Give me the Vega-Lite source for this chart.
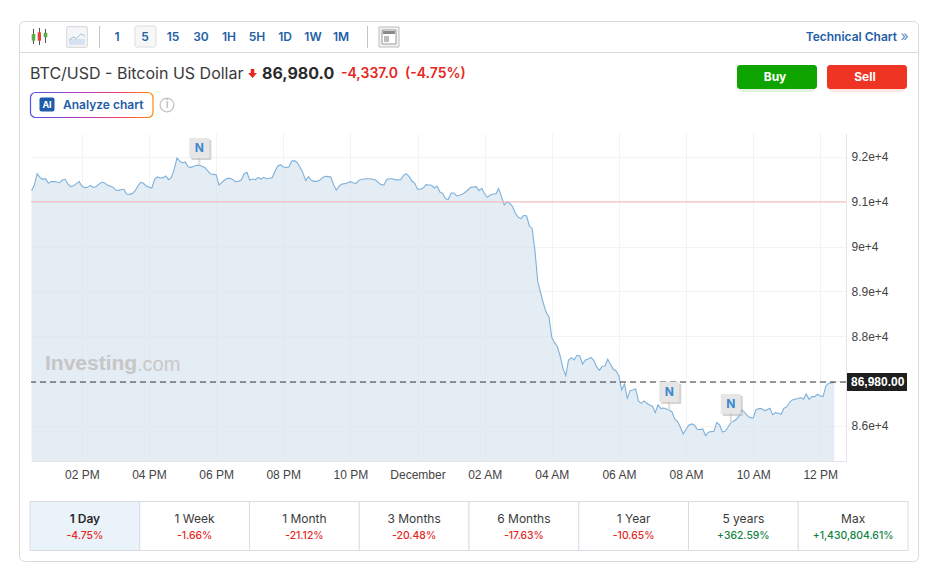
{"$schema":"https://vega.github.io/schema/vega-lite/v6.json","width":815,"height":328,"autosize":"none","padding":{"left":31,"top":133,"right":91,"bottom":116},"config":{"view":{"stroke":null},"text":{"font":"Inter"}},
"datasets":{"series":[
{"t":"2025-11-30T12:30:00Z","p":91249},{"t":"2025-11-30T12:35:00Z","p":91375},{"t":"2025-11-30T12:40:00Z","p":91628},{"t":"2025-11-30T12:45:00Z","p":91546},{"t":"2025-11-30T12:50:00Z","p":91502},{"t":"2025-11-30T12:55:00Z","p":91516},
{"t":"2025-11-30T13:00:00Z","p":91412},{"t":"2025-11-30T13:05:00Z","p":91450},{"t":"2025-11-30T13:10:00Z","p":91450},{"t":"2025-11-30T13:15:00Z","p":91442},{"t":"2025-11-30T13:20:00Z","p":91427},{"t":"2025-11-30T13:25:00Z","p":91487},{"t":"2025-11-30T13:30:00Z","p":91502},{"t":"2025-11-30T13:35:00Z","p":91398},{"t":"2025-11-30T13:40:00Z","p":91338},{"t":"2025-11-30T13:45:00Z","p":91360},{"t":"2025-11-30T13:50:00Z","p":91405},{"t":"2025-11-30T13:55:00Z","p":91450},
{"t":"2025-11-30T14:00:00Z","p":91353},{"t":"2025-11-30T14:05:00Z","p":91316},{"t":"2025-11-30T14:10:00Z","p":91323},{"t":"2025-11-30T14:15:00Z","p":91368},{"t":"2025-11-30T14:20:00Z","p":91323},{"t":"2025-11-30T14:25:00Z","p":91338},{"t":"2025-11-30T14:30:00Z","p":91390},{"t":"2025-11-30T14:35:00Z","p":91435},{"t":"2025-11-30T14:40:00Z","p":91427},{"t":"2025-11-30T14:45:00Z","p":91375},{"t":"2025-11-30T14:50:00Z","p":91353},{"t":"2025-11-30T14:55:00Z","p":91331},
{"t":"2025-11-30T15:00:00Z","p":91264},{"t":"2025-11-30T15:05:00Z","p":91256},{"t":"2025-11-30T15:10:00Z","p":91271},{"t":"2025-11-30T15:15:00Z","p":91279},{"t":"2025-11-30T15:20:00Z","p":91174},{"t":"2025-11-30T15:25:00Z","p":91167},{"t":"2025-11-30T15:30:00Z","p":91182},{"t":"2025-11-30T15:35:00Z","p":91241},{"t":"2025-11-30T15:40:00Z","p":91353},{"t":"2025-11-30T15:45:00Z","p":91435},{"t":"2025-11-30T15:50:00Z","p":91412},{"t":"2025-11-30T15:55:00Z","p":91353},
{"t":"2025-11-30T16:00:00Z","p":91323},{"t":"2025-11-30T16:05:00Z","p":91308},{"t":"2025-11-30T16:10:00Z","p":91502},{"t":"2025-11-30T16:15:00Z","p":91554},{"t":"2025-11-30T16:20:00Z","p":91531},{"t":"2025-11-30T16:25:00Z","p":91539},{"t":"2025-11-30T16:30:00Z","p":91576},{"t":"2025-11-30T16:35:00Z","p":91494},{"t":"2025-11-30T16:40:00Z","p":91546},{"t":"2025-11-30T16:45:00Z","p":91725},{"t":"2025-11-30T16:50:00Z","p":91977},{"t":"2025-11-30T16:55:00Z","p":91903},
{"t":"2025-11-30T17:00:00Z","p":91866},{"t":"2025-11-30T17:05:00Z","p":91888},{"t":"2025-11-30T17:10:00Z","p":91784},{"t":"2025-11-30T17:15:00Z","p":91769},{"t":"2025-11-30T17:20:00Z","p":91792},{"t":"2025-11-30T17:25:00Z","p":91814},{"t":"2025-11-30T17:30:00Z","p":91814},{"t":"2025-11-30T17:35:00Z","p":91792},{"t":"2025-11-30T17:40:00Z","p":91762},{"t":"2025-11-30T17:45:00Z","p":91688},{"t":"2025-11-30T17:50:00Z","p":91621},{"t":"2025-11-30T17:55:00Z","p":91613},
{"t":"2025-11-30T18:00:00Z","p":91606},{"t":"2025-11-30T18:05:00Z","p":91375},{"t":"2025-11-30T18:10:00Z","p":91427},{"t":"2025-11-30T18:15:00Z","p":91487},{"t":"2025-11-30T18:20:00Z","p":91524},{"t":"2025-11-30T18:25:00Z","p":91524},{"t":"2025-11-30T18:30:00Z","p":91494},{"t":"2025-11-30T18:35:00Z","p":91442},{"t":"2025-11-30T18:40:00Z","p":91457},{"t":"2025-11-30T18:45:00Z","p":91487},{"t":"2025-11-30T18:50:00Z","p":91621},{"t":"2025-11-30T18:55:00Z","p":91658},
{"t":"2025-11-30T19:00:00Z","p":91487},{"t":"2025-11-30T19:05:00Z","p":91509},{"t":"2025-11-30T19:10:00Z","p":91494},{"t":"2025-11-30T19:15:00Z","p":91546},{"t":"2025-11-30T19:20:00Z","p":91509},{"t":"2025-11-30T19:25:00Z","p":91546},{"t":"2025-11-30T19:30:00Z","p":91516},{"t":"2025-11-30T19:35:00Z","p":91524},{"t":"2025-11-30T19:40:00Z","p":91539},{"t":"2025-11-30T19:45:00Z","p":91673},{"t":"2025-11-30T19:50:00Z","p":91799},{"t":"2025-11-30T19:55:00Z","p":91829},
{"t":"2025-11-30T20:00:00Z","p":91777},{"t":"2025-11-30T20:05:00Z","p":91769},{"t":"2025-11-30T20:10:00Z","p":91777},{"t":"2025-11-30T20:15:00Z","p":91911},{"t":"2025-11-30T20:20:00Z","p":91918},{"t":"2025-11-30T20:25:00Z","p":91873},{"t":"2025-11-30T20:30:00Z","p":91769},{"t":"2025-11-30T20:35:00Z","p":91650},{"t":"2025-11-30T20:40:00Z","p":91472},{"t":"2025-11-30T20:45:00Z","p":91561},{"t":"2025-11-30T20:50:00Z","p":91479},{"t":"2025-11-30T20:55:00Z","p":91457},
{"t":"2025-11-30T21:00:00Z","p":91457},{"t":"2025-11-30T21:05:00Z","p":91479},{"t":"2025-11-30T21:10:00Z","p":91539},{"t":"2025-11-30T21:15:00Z","p":91569},{"t":"2025-11-30T21:20:00Z","p":91561},{"t":"2025-11-30T21:25:00Z","p":91554},{"t":"2025-11-30T21:30:00Z","p":91375},{"t":"2025-11-30T21:35:00Z","p":91264},{"t":"2025-11-30T21:40:00Z","p":91353},{"t":"2025-11-30T21:45:00Z","p":91398},{"t":"2025-11-30T21:50:00Z","p":91405},{"t":"2025-11-30T21:55:00Z","p":91427},
{"t":"2025-11-30T22:00:00Z","p":91450},{"t":"2025-11-30T22:05:00Z","p":91427},{"t":"2025-11-30T22:10:00Z","p":91405},{"t":"2025-11-30T22:15:00Z","p":91479},{"t":"2025-11-30T22:20:00Z","p":91502},{"t":"2025-11-30T22:25:00Z","p":91509},{"t":"2025-11-30T22:30:00Z","p":91516},{"t":"2025-11-30T22:35:00Z","p":91516},{"t":"2025-11-30T22:40:00Z","p":91502},{"t":"2025-11-30T22:45:00Z","p":91487},{"t":"2025-11-30T22:50:00Z","p":91427},{"t":"2025-11-30T22:55:00Z","p":91383},
{"t":"2025-11-30T23:00:00Z","p":91375},{"t":"2025-11-30T23:05:00Z","p":91502},{"t":"2025-11-30T23:10:00Z","p":91516},{"t":"2025-11-30T23:15:00Z","p":91516},{"t":"2025-11-30T23:20:00Z","p":91494},{"t":"2025-11-30T23:25:00Z","p":91487},{"t":"2025-11-30T23:30:00Z","p":91494},{"t":"2025-11-30T23:35:00Z","p":91591},{"t":"2025-11-30T23:40:00Z","p":91628},{"t":"2025-11-30T23:45:00Z","p":91561},{"t":"2025-11-30T23:50:00Z","p":91464},{"t":"2025-11-30T23:55:00Z","p":91412},
{"t":"2025-12-01T00:00:00Z","p":91279},{"t":"2025-12-01T00:05:00Z","p":91279},{"t":"2025-12-01T00:10:00Z","p":91308},{"t":"2025-12-01T00:15:00Z","p":91383},{"t":"2025-12-01T00:20:00Z","p":91375},{"t":"2025-12-01T00:25:00Z","p":91368},{"t":"2025-12-01T00:30:00Z","p":91308},{"t":"2025-12-01T00:35:00Z","p":91353},{"t":"2025-12-01T00:40:00Z","p":91219},{"t":"2025-12-01T00:45:00Z","p":91189},{"t":"2025-12-01T00:50:00Z","p":91070},{"t":"2025-12-01T00:55:00Z","p":91056},
{"t":"2025-12-01T01:00:00Z","p":91197},{"t":"2025-12-01T01:05:00Z","p":91197},{"t":"2025-12-01T01:10:00Z","p":91130},{"t":"2025-12-01T01:15:00Z","p":91145},{"t":"2025-12-01T01:20:00Z","p":91167},{"t":"2025-12-01T01:25:00Z","p":91212},{"t":"2025-12-01T01:30:00Z","p":91264},{"t":"2025-12-01T01:35:00Z","p":91323},{"t":"2025-12-01T01:40:00Z","p":91331},{"t":"2025-12-01T01:45:00Z","p":91338},{"t":"2025-12-01T01:50:00Z","p":91249},{"t":"2025-12-01T01:55:00Z","p":91301},
{"t":"2025-12-01T02:00:00Z","p":91174},{"t":"2025-12-01T02:05:00Z","p":91100},{"t":"2025-12-01T02:10:00Z","p":91152},{"t":"2025-12-01T02:15:00Z","p":91174},{"t":"2025-12-01T02:20:00Z","p":91174},{"t":"2025-12-01T02:25:00Z","p":91293},{"t":"2025-12-01T02:30:00Z","p":91115},{"t":"2025-12-01T02:35:00Z","p":90929},{"t":"2025-12-01T02:40:00Z","p":91003},{"t":"2025-12-01T02:45:00Z","p":90966},{"t":"2025-12-01T02:50:00Z","p":90892},{"t":"2025-12-01T02:55:00Z","p":90743},
{"t":"2025-12-01T03:00:00Z","p":90654},{"t":"2025-12-01T03:05:00Z","p":90624},{"t":"2025-12-01T03:10:00Z","p":90699},{"t":"2025-12-01T03:15:00Z","p":90684},{"t":"2025-12-01T03:20:00Z","p":90461},{"t":"2025-12-01T03:25:00Z","p":90401},{"t":"2025-12-01T03:30:00Z","p":89900},{"t":"2025-12-01T03:35:00Z","p":89219},{"t":"2025-12-01T03:40:00Z","p":88974},{"t":"2025-12-01T03:45:00Z","p":88736},{"t":"2025-12-01T03:50:00Z","p":88535},{"t":"2025-12-01T03:55:00Z","p":88439},
{"t":"2025-12-01T04:00:00Z","p":87978},{"t":"2025-12-01T04:05:00Z","p":87859},{"t":"2025-12-01T04:10:00Z","p":87770},{"t":"2025-12-01T04:15:00Z","p":87561},{"t":"2025-12-01T04:20:00Z","p":87286},{"t":"2025-12-01T04:25:00Z","p":87123},{"t":"2025-12-01T04:30:00Z","p":87472},{"t":"2025-12-01T04:35:00Z","p":87524},{"t":"2025-12-01T04:40:00Z","p":87472},{"t":"2025-12-01T04:45:00Z","p":87576},{"t":"2025-12-01T04:50:00Z","p":87561},{"t":"2025-12-01T04:55:00Z","p":87383},
{"t":"2025-12-01T05:00:00Z","p":87472},{"t":"2025-12-01T05:05:00Z","p":87494},{"t":"2025-12-01T05:10:00Z","p":87531},{"t":"2025-12-01T05:15:00Z","p":87465},{"t":"2025-12-01T05:20:00Z","p":87323},{"t":"2025-12-01T05:25:00Z","p":87242},{"t":"2025-12-01T05:30:00Z","p":87331},{"t":"2025-12-01T05:35:00Z","p":87338},{"t":"2025-12-01T05:40:00Z","p":87487},{"t":"2025-12-01T05:45:00Z","p":87376},{"t":"2025-12-01T05:50:00Z","p":87264},{"t":"2025-12-01T05:55:00Z","p":87227},
{"t":"2025-12-01T06:00:00Z","p":87115},{"t":"2025-12-01T06:05:00Z","p":86803},{"t":"2025-12-01T06:10:00Z","p":86937},{"t":"2025-12-01T06:15:00Z","p":86617},{"t":"2025-12-01T06:20:00Z","p":86788},{"t":"2025-12-01T06:25:00Z","p":86803},{"t":"2025-12-01T06:30:00Z","p":86825},{"t":"2025-12-01T06:35:00Z","p":86560},{"t":"2025-12-01T06:40:00Z","p":86506},{"t":"2025-12-01T06:45:00Z","p":86559},{"t":"2025-12-01T06:50:00Z","p":86506},{"t":"2025-12-01T06:55:00Z","p":86469},
{"t":"2025-12-01T07:00:00Z","p":86440},{"t":"2025-12-01T07:05:00Z","p":86298},{"t":"2025-12-01T07:10:00Z","p":86469},{"t":"2025-12-01T07:15:00Z","p":86388},{"t":"2025-12-01T07:20:00Z","p":86402},{"t":"2025-12-01T07:25:00Z","p":86380},{"t":"2025-12-01T07:30:00Z","p":86358},{"t":"2025-12-01T07:35:00Z","p":86313},{"t":"2025-12-01T07:40:00Z","p":86150},{"t":"2025-12-01T07:45:00Z","p":86098},{"t":"2025-12-01T07:50:00Z","p":85971},{"t":"2025-12-01T07:55:00Z","p":85822},
{"t":"2025-12-01T08:00:00Z","p":85927},{"t":"2025-12-01T08:05:00Z","p":86016},{"t":"2025-12-01T08:10:00Z","p":86046},{"t":"2025-12-01T08:15:00Z","p":86023},{"t":"2025-12-01T08:20:00Z","p":85927},{"t":"2025-12-01T08:25:00Z","p":85919},{"t":"2025-12-01T08:30:00Z","p":85934},{"t":"2025-12-01T08:35:00Z","p":85785},{"t":"2025-12-01T08:40:00Z","p":85860},{"t":"2025-12-01T08:45:00Z","p":85875},{"t":"2025-12-01T08:50:00Z","p":85882},{"t":"2025-12-01T08:55:00Z","p":86075},
{"t":"2025-12-01T09:00:00Z","p":86023},{"t":"2025-12-01T09:05:00Z","p":85867},{"t":"2025-12-01T09:10:00Z","p":85882},{"t":"2025-12-01T09:15:00Z","p":85971},{"t":"2025-12-01T09:20:00Z","p":86075},{"t":"2025-12-01T09:25:00Z","p":86105},{"t":"2025-12-01T09:30:00Z","p":86150},{"t":"2025-12-01T09:35:00Z","p":86224},{"t":"2025-12-01T09:40:00Z","p":86358},{"t":"2025-12-01T09:45:00Z","p":86298},{"t":"2025-12-01T09:50:00Z","p":86224},{"t":"2025-12-01T09:55:00Z","p":86187},
{"t":"2025-12-01T10:00:00Z","p":86179},{"t":"2025-12-01T10:05:00Z","p":86358},{"t":"2025-12-01T10:10:00Z","p":86388},{"t":"2025-12-01T10:15:00Z","p":86388},{"t":"2025-12-01T10:20:00Z","p":86343},{"t":"2025-12-01T10:25:00Z","p":86365},{"t":"2025-12-01T10:30:00Z","p":86395},{"t":"2025-12-01T10:35:00Z","p":86254},{"t":"2025-12-01T10:40:00Z","p":86298},{"t":"2025-12-01T10:45:00Z","p":86283},{"t":"2025-12-01T10:50:00Z","p":86261},{"t":"2025-12-01T10:55:00Z","p":86395},
{"t":"2025-12-01T11:00:00Z","p":86425},{"t":"2025-12-01T11:05:00Z","p":86529},{"t":"2025-12-01T11:10:00Z","p":86581},{"t":"2025-12-01T11:15:00Z","p":86596},{"t":"2025-12-01T11:20:00Z","p":86611},{"t":"2025-12-01T11:25:00Z","p":86633},{"t":"2025-12-01T11:30:00Z","p":86596},{"t":"2025-12-01T11:35:00Z","p":86715},{"t":"2025-12-01T11:40:00Z","p":86596},{"t":"2025-12-01T11:45:00Z","p":86655},{"t":"2025-12-01T11:50:00Z","p":86655},{"t":"2025-12-01T11:55:00Z","p":86707},
{"t":"2025-12-01T12:00:00Z","p":86670},{"t":"2025-12-01T12:05:00Z","p":86655},{"t":"2025-12-01T12:10:00Z","p":86893},{"t":"2025-12-01T12:15:00Z","p":86953},{"t":"2025-12-01T12:20:00Z","p":86960},{"t":"2025-12-01T12:25:00Z","p":86980}
]},
"layer":[
{"data":{"values":[{"a":1}]},"mark":{"type":"rect","x":-11.5,"x2":887.5,"y":-111.5,"y2":428.5,"fill":"#ffffff00","stroke":"#d9d9d9","cornerRadius":5}},
{"data":{"values":[{"a":1}]},"mark":{"type":"rect","x":-12,"x2":888,"y":-81,"y2":-80,"fill":"#d9d9d9"}},
{"data":{"name":"series"},"mark":{"type":"area","fill":"#d8e4ef","opacity":0.7,"clip":true},
"encoding":{"x":{"field":"t","type":"temporal","title":null,"scale":{"type":"utc","domain":[1764505740000,1764593160000]},"axis":{"values":[1764511200000,1764518400000,1764525600000,1764532800000,1764540000000,1764547200000,1764554400000,1764561600000,1764568800000,1764576000000,1764583200000,1764590400000],"format":"%H:%M","formatType":"utc","grid":true,"gridColor":"#f2f3f5","ticks":false,"domainColor":"#e3e5e8","labelColor":"#444444","labelFont":"Liberation Sans","labelFontSize":12,"labelPadding":8,"labelFlush":false,"labelOverlap":false,"labelExpr":"datum.label==='00:00' ? 'Dec \\'25' : datum.label"}},"y":{"field":"p","type":"quantitative","title":null,"scale":{"domain":[85219,92535],"nice":false,"zero":false},"axis":{"orient":"right","values":[86000,87000,88000,89000,90000,91000,92000],"format":",","grid":true,"gridColor":"#f2f3f5","ticks":false,"domainColor":"#e3e5e8","labelColor":"#444444","labelFont":"Liberation Sans","labelFontSize":12,"labelPadding":5}}}},
{"data":{"name":"series"},"mark":{"type":"line","stroke":"#7db1da","strokeWidth":1.1},"encoding":{"x":{"field":"t","type":"temporal","title":null},"y":{"field":"p","type":"quantitative","title":null}}},
{"data":{"values":[{"level":91000}]},"mark":{"type":"rule","stroke":"#f6b4b4","strokeWidth":1},"encoding":{"y":{"field":"level","type":"quantitative","title":null}}},
{"data":{"values":[{"level":86980}]},"mark":{"type":"rule","stroke":"#333333","strokeWidth":1,"strokeDash":[6,4]},"encoding":{"y":{"field":"level","type":"quantitative","title":null}}},
{"data":{"values":[{"t":"2025-11-30T17:30:00Z","flag":92200,"at":91814},{"t":"2025-12-01T07:30:00Z","flag":86760,"at":86358},{"t":"2025-12-01T09:20:00Z","flag":86492,"at":86075}]},"mark":{"type":"rule","stroke":"#dddddd","strokeWidth":2},"encoding":{"x":{"field":"t","type":"temporal","title":null},"y":{"field":"flag","type":"quantitative","title":null},"y2":{"field":"at"}}},
{"data":{"values":[{"t":"2025-11-30T17:30:00Z","flag":92200},{"t":"2025-12-01T07:30:00Z","flag":86760},{"t":"2025-12-01T09:20:00Z","flag":86492}]},"mark":{"type":"point","shape":"square","size":400,"filled":true,"fill":"#b5b5b5","opacity":0.6,"xOffset":2,"yOffset":2},"encoding":{"x":{"field":"t","type":"temporal","title":null},"y":{"field":"flag","type":"quantitative","title":null}}},
{"data":{"values":[{"t":"2025-11-30T17:30:00Z","flag":92200},{"t":"2025-12-01T07:30:00Z","flag":86760},{"t":"2025-12-01T09:20:00Z","flag":86492}]},"mark":{"type":"point","shape":"square","size":400,"filled":true,"fill":"#e6e6e6","opacity":1},"encoding":{"x":{"field":"t","type":"temporal","title":null},"y":{"field":"flag","type":"quantitative","title":null}}},
{"data":{"values":[{"t":"2025-11-30T17:30:00Z","flag":92200},{"t":"2025-12-01T07:30:00Z","flag":86760},{"t":"2025-12-01T09:20:00Z","flag":86492}]},"mark":{"type":"text","text":"N","font":"Inter","fontWeight":"bold","fontSize":12,"fill":"#3d88cf","baseline":"middle","align":"center"},"encoding":{"x":{"field":"t","type":"temporal","title":null},"y":{"field":"flag","type":"quantitative","title":null}}},
{"data":{"values":[{"a":1}]},"mark":{"type":"text","text":"Investing","x":14,"y":231,"align":"left","baseline":"middle","font":"Liberation Sans","fontWeight":"bold","fontSize":21,"fill":"#c4c4c4","opacity":0.95}},
{"data":{"values":[{"a":1}]},"mark":{"type":"text","text":".com","x":106,"y":232,"align":"left","baseline":"middle","font":"Liberation Sans","fontSize":20,"fill":"#c8c8c8"}},
{"data":{"values":[{"a":1}]},"mark":{"type":"rect","x":816,"x2":876,"y":240,"y2":258,"fill":"#1f1f1f"}},
{"data":{"values":[{"last":86980}]},"mark":{"type":"text","x":820,"align":"left","baseline":"middle","font":"Liberation Sans","fontWeight":"bold","fontSize":12,"fill":"#ffffff","text":"86,980.00"},"encoding":{"y":{"field":"last","type":"quantitative","title":null}}},
{"data":{"values":[{"interval":"1"},{"interval":"5"},{"interval":"15"},{"interval":"30"},{"interval":"1H"},{"interval":"5H"},{"interval":"1D"},{"interval":"1W"},{"interval":"1M"}]},"transform":[{"window":[{"op":"row_number","as":"n"}]}],"layer":[
{"transform":[{"filter":"datum.interval==='5'"}],"mark":{"type":"rect","x":104,"x2":125,"y":-107,"y2":-86,"fill":"#f7f7f7","stroke":"#dddddd","cornerRadius":2}},
{"mark":{"type":"text","y":-96,"baseline":"middle","align":"center","font":"Inter","fontWeight":600,"fontSize":12,"fill":"#2460a7"},"encoding":{"x":{"value":{"expr":"86+28*(datum.n-1)"}},"text":{"field":"interval"}}}
]},
{"data":{"values":[{"a":1}]},"layer":[
{"mark":{"type":"rect","x":2,"x2":3,"y":-104,"y2":-89,"fill":"#555555"}},
{"mark":{"type":"rect","x":8,"x2":9,"y":-105,"y2":-88,"fill":"#555555"}},
{"mark":{"type":"rect","x":14,"x2":15,"y":-104,"y2":-90,"fill":"#555555"}},
{"mark":{"type":"rect","x":0.7,"x2":4.3,"y":-99,"y2":-92.3,"fill":"#55b04a"}},
{"mark":{"type":"rect","x":6.7,"x2":10,"y":-100.7,"y2":-92.3,"fill":"#e2433a"}},
{"mark":{"type":"rect","x":12.7,"x2":16.3,"y":-100.3,"y2":-95.7,"fill":"#55b04a"}},
{"mark":{"type":"rect","x":35.7,"x2":56.3,"y":-106.3,"y2":-85.7,"fill":"#f4f6f9","stroke":"#d5d5d5","cornerRadius":1}},
{"mark":{"type":"rect","x":38,"x2":54,"y":-94,"y2":-88,"fill":"#d5e2f0"}},
{"mark":{"type":"point","shape":"M-1,0.4L-0.5,0L-0.1,0.2L0.5,-0.4L1,-0.1","filled":false,"x":46,"y":-96,"size":256,"stroke":"#9fbfdc","strokeWidth":1,"opacity":1}},
{"mark":{"type":"rect","x":68,"x2":69,"y":-107,"y2":-85,"fill":"#c4c4c4"}},
{"mark":{"type":"rect","x":336,"x2":337,"y":-107,"y2":-85,"fill":"#c4c4c4"}},
{"mark":{"type":"rect","x":348,"x2":368,"y":-106,"y2":-86,"fill":"#f2f2f2","stroke":"#bdbdbd"}},
{"mark":{"type":"rect","x":351,"x2":365,"y":-103,"y2":-89,"fill":"#ffffff","stroke":"#9a9a9a"}},
{"mark":{"type":"rect","x":352,"x2":364,"y":-102,"y2":-99,"fill":"#8a8a8a"}},
{"mark":{"type":"rect","x":353,"x2":358,"y":-97,"y2":-91,"fill":"#bdbdbd"}},
{"mark":{"type":"text","text":"Technical Chart","x":866,"y":-96,"align":"right","baseline":"middle","fontWeight":600,"fontSize":12,"fill":"#2460a7"}},
{"mark":{"type":"text","text":"»","x":873.5,"y":-96.5,"align":"center","baseline":"middle","fontSize":14,"fill":"#5b8cc4"}},
{"mark":{"type":"text","text":"BTC/USD - Bitcoin US Dollar","x":-1,"y":-59.5,"align":"left","baseline":"middle","fontSize":16,"fill":"#3a3a3a"}},
{"mark":{"type":"point","shape":"M-0.4,-1L0.4,-1L0.4,-0.1L1,-0.1L0,1L-1,-0.1L-0.4,-0.1Z","x":221.5,"y":-59.5,"size":81,"filled":true,"fill":"#e5281d","opacity":1}},
{"mark":{"type":"text","text":"86,980.0","x":231,"y":-59.5,"align":"left","baseline":"middle","fontSize":16,"fontWeight":"bold","fill":"#2a2a2a"}},
{"mark":{"type":"text","text":"-4,337.0","x":310,"y":-59.5,"align":"left","baseline":"middle","fontSize":14,"fontWeight":600,"fill":"#e5281d"}},
{"mark":{"type":"text","text":"(-4.75%)","x":374,"y":-59.5,"align":"left","baseline":"middle","fontSize":14,"fontWeight":600,"fill":"#e5281d"}},
{"mark":{"type":"rect","x":708,"x2":784,"y":-63,"y2":-41,"fill":"#0ea500","opacity":0.12,"cornerRadius":4}},
{"mark":{"type":"rect","x":706,"x2":786,"y":-68,"y2":-44,"fill":"#0ea500","cornerRadius":3}},
{"mark":{"type":"text","text":"Buy","x":744,"y":-56,"align":"center","baseline":"middle","fontSize":12,"fontWeight":"bold","fill":"#ffffff"}},
{"mark":{"type":"rect","x":798,"x2":874,"y":-63,"y2":-41,"fill":"#ee3524","opacity":0.12,"cornerRadius":4}},
{"mark":{"type":"rect","x":796,"x2":876,"y":-68,"y2":-44,"fill":"#ee3524","cornerRadius":3}},
{"mark":{"type":"text","text":"Sell","x":834,"y":-56,"align":"center","baseline":"middle","fontSize":12,"fontWeight":"bold","fill":"#ffffff"}},
{"mark":{"type":"rect","x":-0.5,"x2":122,"y":-40.5,"y2":-15.5,"fill":"#ffffff","cornerRadius":5,"strokeWidth":1.2,"stroke":{"gradient":"linear","x1":0,"y1":0,"x2":1,"y2":0,"stops":[{"offset":0,"color":"#4f52f0"},{"offset":0.5,"color":"#c43ba8"},{"offset":0.75,"color":"#f2405f"},{"offset":1,"color":"#ff8a00"}]}}},
{"mark":{"type":"rect","x":8.5,"x2":23.5,"y":-35.5,"y2":-21.5,"fill":"#1f5ba8","cornerRadius":2}},
{"mark":{"type":"text","text":"AI","x":16,"y":-28.5,"align":"center","baseline":"middle","fontSize":9,"fontWeight":"bold","fill":"#ffffff"}},
{"mark":{"type":"text","text":"Analyze chart","x":32,"y":-28.5,"align":"left","baseline":"middle","fontSize":12,"fontWeight":600,"fill":"#1f5ba8"}},
{"mark":{"type":"point","shape":"circle","x":136,"y":-28,"size":190,"filled":false,"stroke":"#c4c4c4","strokeWidth":1.3,"opacity":1}},
{"mark":{"type":"text","text":"i","x":136,"y":-28,"align":"center","baseline":"middle","fontSize":11,"fill":"#aaaaaa"}}
]},
{"data":{"values":[{"period":"1 Day","change":"-4.75%"},{"period":"1 Week","change":"-1.66%"},{"period":"1 Month","change":"-21.12%"},{"period":"3 Months","change":"-20.48%"},{"period":"6 Months","change":"-17.63%"},{"period":"1 Year","change":"-10.65%"},{"period":"5 years","change":"+362.59%"},{"period":"Max","change":"+1,430,804.61%"}]},
"transform":[{"window":[{"op":"row_number","as":"n"}]}],
"layer":[
{"mark":{"type":"rect","y":368.5,"y2":417.5,"stroke":"#d9dde3"},"encoding":{"x":{"value":{"expr":"-1+109.75*(datum.n-1)"}},"x2":{"value":{"expr":"-1+109.75*datum.n"}},"fill":{"condition":{"test":"datum.period==='1 Day'","value":"#eaf2fa"},"value":"#ffffff"}}},
{"transform":[{"filter":"datum.period!=='1 Day'"}],"mark":{"type":"text","y":385.5,"baseline":"middle","align":"center","fontSize":12,"fill":"#3a3a3a"},"encoding":{"x":{"value":{"expr":"-1+109.75*(datum.n-0.5)"}},"text":{"field":"period"}}},
{"transform":[{"filter":"datum.period==='1 Day'"}],"mark":{"type":"text","y":385.5,"baseline":"middle","align":"center","fontSize":12,"fontWeight":600,"fill":"#2a2a2a"},"encoding":{"x":{"value":{"expr":"-1+109.75*(datum.n-0.5)"}},"text":{"field":"period"}}},
{"mark":{"type":"text","y":402.5,"baseline":"middle","align":"center","fontSize":10.4,"fontWeight":500},"encoding":{"x":{"value":{"expr":"-1+109.75*(datum.n-0.5)"}},"text":{"field":"change"},"fill":{"condition":{"test":"indexof(datum.change,'+')===0","value":"#11833f"},"value":"#e5281d"}}}
]}
]}
